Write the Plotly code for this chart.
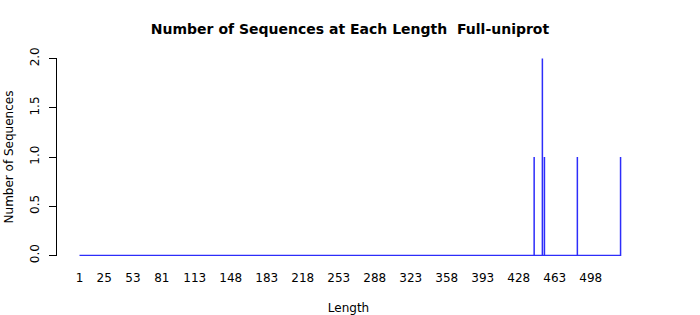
import plotly.graph_objects as go

# Data
lengths = [1, 443, 451, 453, 485, 527]
counts = [0, 1, 2, 1, 1, 1]
tick_labels = [1, 25, 53, 81, 113, 148, 183, 218, 253, 288, 323, 358, 393, 428, 463, 498]
y_ticks = [0.0, 0.5, 1.0, 1.5, 2.0]

# Build a "type = h" style trace: baseline with vertical spikes
xs, ys = [], []
for L, c in zip(lengths, counts):
    xs += [L, L, L]
    ys += [0, c, 0]

FONT = "DejaVu Sans"

fig = go.Figure()
fig.add_trace(go.Scatter(
    x=xs, y=ys, mode="lines",
    line=dict(color="rgb(45,45,250)", width=1.5),
    hoverinfo="skip", showlegend=False,
))

fig.update_layout(
    width=700, height=315,
    margin=dict(l=57, r=60, t=58, b=59, autoexpand=False),
    paper_bgcolor="white", plot_bgcolor="white",
    font=dict(family=FONT, size=12, color="black"),
    title=dict(
        text="<b>Number of Sequences at Each Length  Full-uniprot</b>",
        x=0.5, xanchor="center", xref="container",
        y=1 - 29 / 315, yanchor="middle", yref="container",
        font=dict(family=FONT, size=14, color="black"),
    ),
    xaxis=dict(
        range=[-20.87, 545.9], automargin=False,
        tickmode="array", tickvals=tick_labels,
        ticktext=[str(t) for t in tick_labels],
        ticks="", showline=False, showgrid=False, zeroline=False,
        ticklabelstandoff=13,
        tickfont=dict(family=FONT, size=12, color="black"),
        title=dict(text="Length", standoff=19,
                   font=dict(family=FONT, size=12, color="black")),
    ),
    yaxis=dict(
        range=[-0.006, 2.006], automargin=False,
        tickmode="array", tickvals=y_ticks,
        ticktext=[f"{v:.1f}" for v in y_ticks],
        tickangle=-90,
        ticks="outside", ticklen=7, tickcolor="black", tickwidth=1,
        showline=True, linecolor="black", linewidth=1,
        showgrid=False, zeroline=False,
        ticklabelstandoff=5,
        tickfont=dict(family=FONT, size=12, color="black"),
        title=dict(text="Number of Sequences", standoff=12,
                   font=dict(family=FONT, size=12, color="black")),
    ),
)

fig.write_html("out.html")
